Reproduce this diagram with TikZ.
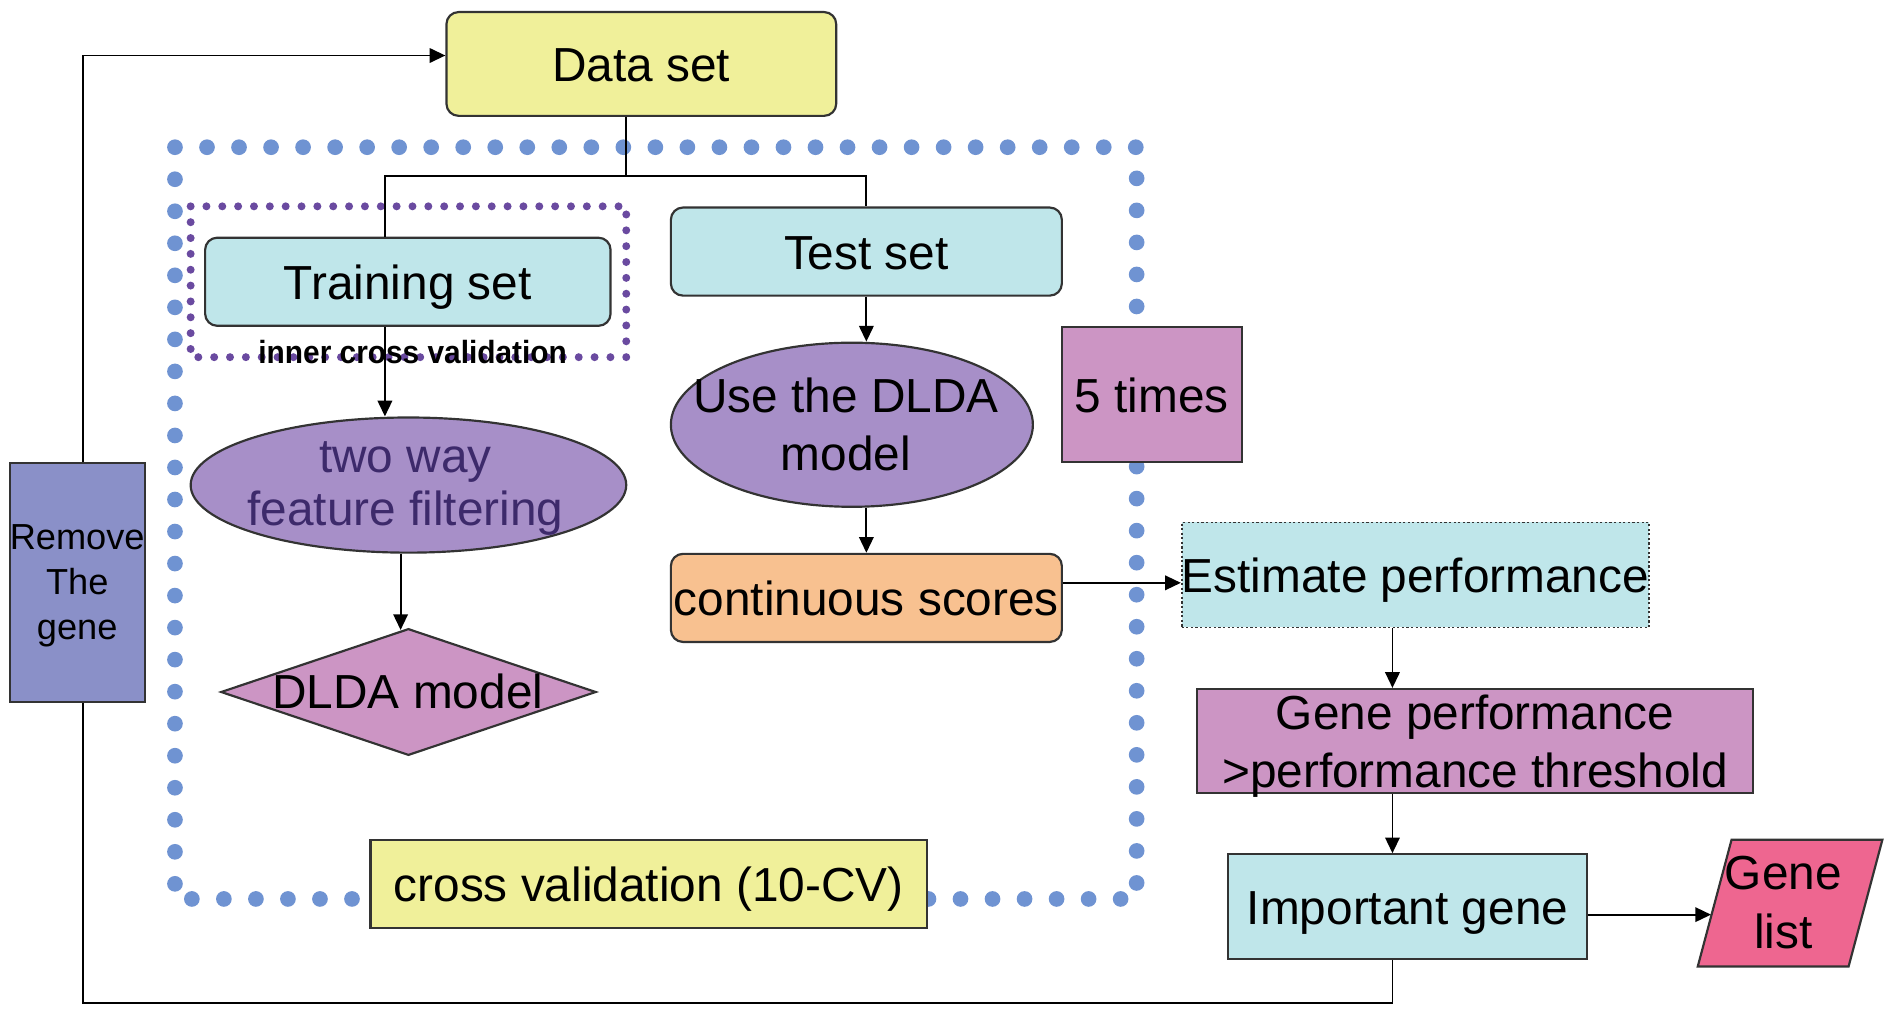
\documentclass[tikz,border=0pt]{standalone}
\usepackage{fontspec}
\setmainfont{Liberation Sans}
\usepackage{graphicx}
\usetikzlibrary{arrows.meta,shapes.geometric,calc}
\definecolor{cyanf}{HTML}{BFE6EA}
\definecolor{yelf}{HTML}{F0F09A}
\definecolor{orf}{HTML}{F8C190}
\definecolor{pinkf}{HTML}{CC95C4}
\definecolor{ellf}{HTML}{A78FC8}
\definecolor{ellt}{HTML}{3D2A6B}
\definecolor{glf}{HTML}{EE6690}
\definecolor{remf}{HTML}{8A90C8}
\definecolor{bdot}{HTML}{6F93D2}
\definecolor{pdot}{HTML}{6A4AA0}
\definecolor{bord}{HTML}{333333}
\newcommand\fbig{\fontsize{19.8}{24}\selectfont}
\newcommand\fmid{\fontsize{15}{18.5}\selectfont}
\begin{document}
\begin{tikzpicture}[x=0.5pt,y=-0.5pt,
  box/.style={draw=bord, line width=0.9pt, inner sep=0pt, align=center, font=\fbig},
  sl/.style={text height=14.7pt, text depth=0pt},
  rbox/.style={box, rounded corners=5pt},
  conn/.style={line width=0.8pt, black},
  arr/.style={conn, -{Triangle[length=6.5pt,width=6pt]}},
  lbl/.style={inner sep=0pt, align=center, font=\fbig},
]
\path[use as bounding box] (0,0) rectangle (1568,841.2);
\fill[white] (0,0) rectangle (1568,841.2);

% dotted frames
\draw[bdot, line width=6.5pt, line cap=round, dash pattern=on 0pt off 13.271pt] (145,122) rectangle (942,745);
\draw[pdot, line width=3.3pt, line cap=round, dash pattern=on 0pt off 6.568pt] (158,171) rectangle (519,296);

% nodes
\node[rbox, sl, fill=yelf, minimum width=161.5pt, minimum height=43pt] (data) at (531.5,53) {Data set};
\node[rbox, sl, fill=cyanf, minimum width=168pt, minimum height=36.5pt] (train) at (338,233.5) {Training set};
\node[rbox, sl, fill=cyanf, minimum width=162pt, minimum height=36.5pt] (test) at (718,208.5) {Test set};
\node[box, sl, fill=pinkf, minimum width=74.5pt, minimum height=56pt] (times) at (954.5,327) {5 times};
\node[box, ellipse, fill=ellf, minimum width=150pt, minimum height=68pt] (use) at (706,352) {};
\node[lbl] (uselbl) at (701,352) {Use the DLDA\\model};
\node[box, ellipse, fill=ellf, minimum width=180.5pt, minimum height=56pt] (filt) at (338.5,402) {};
\node[lbl, text=ellt, font=\fontsize{19.8}{22}\selectfont] (filtlbl) at (336,405) {two way\\feature filtering};
\node[box, diamond, fill=pinkf, minimum width=155.5pt, minimum height=52.5pt] (dlda) at (338.5,573.5) {};
\node[lbl] (dldalbl) at (338,573) {DLDA model};
\node[rbox, sl, fill=orf, minimum width=162pt, minimum height=36.5pt] (scores) at (718,495.5) {continuous scores};
\node[box, sl, fill=cyanf, densely dotted, line width=0.7pt, minimum width=193pt, minimum height=43.5pt] (est) at (1173,476.5) {Estimate performance};
\node[box, fill=pinkf, minimum width=230.5pt, minimum height=43pt] (gperf) at (1222.5,614) {};
\node[lbl] (gperflbl) at (1222.5,618.5) {Gene performance\\>performance threshold};
\node[box, sl, fill=cyanf, minimum width=148.5pt, minimum height=43.5pt] (imp) at (1166.5,751.5) {Important gene};
\node[box, sl, fill=yelf, minimum width=230.5pt, minimum height=36.5pt] (cv) at (537.5,732.5) {cross validation (10-CV)};
\node[box, fill=remf, minimum width=56pt, minimum height=99pt] (remove) at (64,483) {};
\node[lbl, font=\fmid] (removelbl) at (64,485.5) {Remove\\The\\gene};
\draw[draw=bord, line width=0.9pt, fill=glf] (1435,696) -- (1560,696) -- (1532,801) -- (1407,801) -- cycle;
\node[lbl, font=\fontsize{19.8}{24.5}\selectfont] (gl) at (1478,747.7) {Gene\\list};
\coordinate (glin) at (1418,758);
\node[inner sep=0pt, font=\fontsize{13.3}{16}\selectfont\bfseries] (icv) at (342,292) {\scalebox{0.93}[1]{inner cross validation}};

% connectors
\coordinate (split) at (519,146);
\coordinate (vx) at (1154,0);
\draw[conn] (data.south -| split) -- (split);
\draw[conn] (split) -| ([xshift=-9.5pt]train.north);
\draw[conn] (split) -| (test.north);
\draw[arr] ([xshift=-9.5pt]train.south) -- ([xshift=-9.5pt]train.south |- filt.north);
\draw[arr] ([xshift=-3.25pt]filt.south) -- ([xshift=-3.25pt,yshift=-1pt]dlda.north);
\draw[arr] (test.south) -- (test.south |- use.north);
\draw[arr] (use.south -| test.south) -- (scores.north);
\draw[arr] ([yshift=6.25pt]scores.east) -- ([yshift=6.25pt]scores.east -| est.west);
\draw[arr] (est.south -| vx) -- (gperf.north -| vx);
\draw[arr] (gperf.south -| vx) -- (imp.north -| vx);
\draw[arr] ([yshift=-3.25pt]imp.east) -- (glin);
\draw[conn] (imp.south -| vx) -- (1154,831) -| ([xshift=2.5pt]remove.south);
\draw[arr] ([xshift=2.5pt]remove.north) |- ([yshift=3.5pt]data.west);
\end{tikzpicture}
\end{document}
